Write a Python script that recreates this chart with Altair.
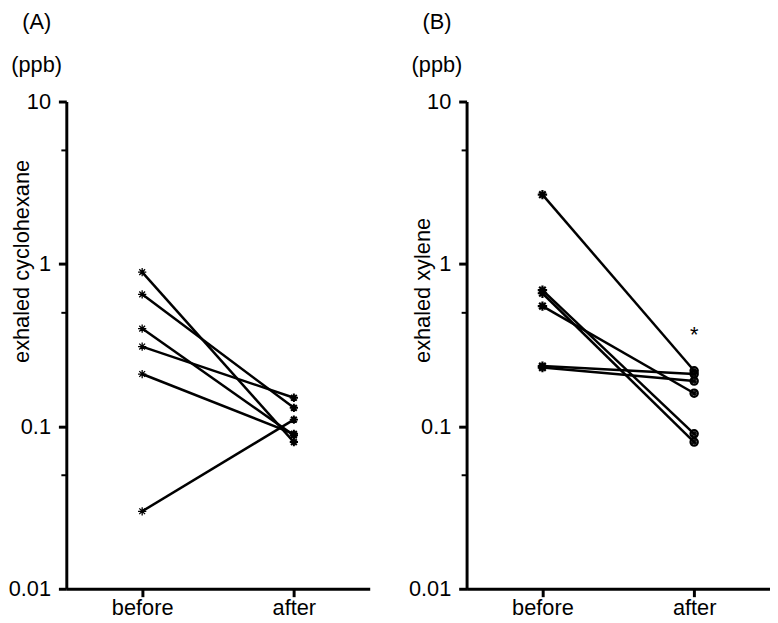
import altair as alt
import pandas as pd

# ---- data ----
times = ["before", "after"]
cyc_before = [0.89, 0.65, 0.40, 0.31, 0.21, 0.03]
cyc_after = [0.08, 0.13, 0.088, 0.15, 0.09, 0.11]
xyl_before = [2.67, 0.69, 0.66, 0.55, 0.235, 0.23]
xyl_after = [0.22, 0.09, 0.08, 0.16, 0.21, 0.19]
y_ticks = [0.01, 0.1, 1, 10]
minor_ticks = [0.05, 0.5, 5]
xyl_sig_label = ["*"]
xyl_sig_value = [0.39]

FONT = "Liberation Sans"
FS = 22
W, H = 307, 493
ASTER = "M0,-1L0,1M-1,0L1,0M-0.7,-0.7L0.7,0.7M-0.7,0.7L0.7,-0.7"


def long_df(before, after):
    rows = []
    for i, (b, a) in enumerate(zip(before, after)):
        rows.append({"subject": i, "time": times[0], "value": b})
        rows.append({"subject": i, "time": times[1], "value": a})
    return pd.DataFrame(rows)


def panel(before, after, ytitle, letter, right=False):
    df = long_df(before, after)
    x = alt.X("time:N", sort=times,
              scale=alt.Scale(type="point", padding=0.5),
              axis=alt.Axis(title=None, labelAngle=0, labelFont=FONT, labelFontSize=FS,
                            labelColor="black", labelPadding=1, domainColor="black",
                            domainWidth=3, tickColor="black", tickWidth=3, tickSize=8,
                            grid=False))
    y = alt.Y("value:Q",
              scale=alt.Scale(type="log", domain=[0.01, 10]),
              axis=alt.Axis(values=y_ticks, format="~g", title=ytitle,
                            titleFont=FONT, titleFontSize=FS, titleFontWeight="normal",
                            titleColor="black", titleAngle=-90, titleAlign="left",
                            titleBaseline="alphabetic", titleX=-38, titleY=264,
                            labelFont=FONT, labelFontSize=FS, labelColor="black",
                            labelPadding=8, domainColor="black", domainWidth=3,
                            tickColor="black", tickWidth=3, tickSize=8, grid=False))
    base = alt.Chart(df)
    lines = base.mark_line(color="black", strokeWidth=2.5).encode(
        x=x, y=y, detail="subject:N")
    bdf = df[df.time == "before"]
    adf = df[df.time == "after"]
    if right:
        pts_b = alt.Chart(bdf).mark_point(shape=ASTER, filled=False, color="black",
                                          strokeWidth=2.2, size=90, opacity=1).encode(x=x, y=y)
        pts_a = alt.Chart(adf).mark_point(shape="circle", filled=False, color="black",
                                          strokeWidth=2.2, size=55, opacity=1).encode(x=x, y=y)
        pts_a2 = alt.Chart(adf).mark_point(shape=ASTER, filled=False, color="black",
                                           strokeWidth=1.2, size=40, opacity=1).encode(x=x, y=y)
        pts = [pts_b, pts_a, pts_a2]
    else:
        pts_b = alt.Chart(bdf).mark_point(shape=ASTER, filled=False, color="black",
                                          strokeWidth=1.3, size=70, opacity=1).encode(x=x, y=y)
        pts_a = alt.Chart(adf).mark_point(shape=ASTER, filled=False, color="black",
                                          strokeWidth=2.0, size=70, opacity=1).encode(x=x, y=y)
        pts = [pts_b, pts_a]
    minor = alt.Chart(pd.DataFrame({"value": minor_ticks})).mark_rule(
        color="black", strokeWidth=2).encode(
        y=y, x=alt.value(-5), x2=alt.value(0))
    letter_t = alt.Chart(pd.DataFrame({"t": [letter]})).mark_text(
        font=FONT, fontSize=FS, color="black", baseline="middle", align="center").encode(
        text="t:N", x=alt.value(-30), y=alt.value(-80))
    ppb_t = alt.Chart(pd.DataFrame({"t": ["(ppb)"]})).mark_text(
        font=FONT, fontSize=FS, color="black", baseline="middle", align="center").encode(
        text="t:N", x=alt.value(-30), y=alt.value(-37))
    layers = [lines] + pts + [minor, letter_t, ppb_t]
    if right:
        sig = alt.Chart(pd.DataFrame({"time": ["after"], "value": xyl_sig_value,
                                      "t": xyl_sig_label})).mark_text(
            font=FONT, fontSize=FS, color="black", baseline="alphabetic", dy=12).encode(
            x=x, y=y, text="t:N")
        layers.append(sig)
    return alt.layer(*layers).properties(width=W, height=H)


left = panel(cyc_before, cyc_after, "exhaled cyclohexane", "(A)")
right = panel(xyl_before, xyl_after, "exhaled xylene", "(B)", right=True)

chart = alt.hconcat(left, right, spacing=39).properties(
    padding={"left": 0, "top": 0, "right": 0, "bottom": 0},
    background="white",
).configure_view(stroke=None)

chart.save("out.html", embed_options={"renderer": "svg", "actions": False})
